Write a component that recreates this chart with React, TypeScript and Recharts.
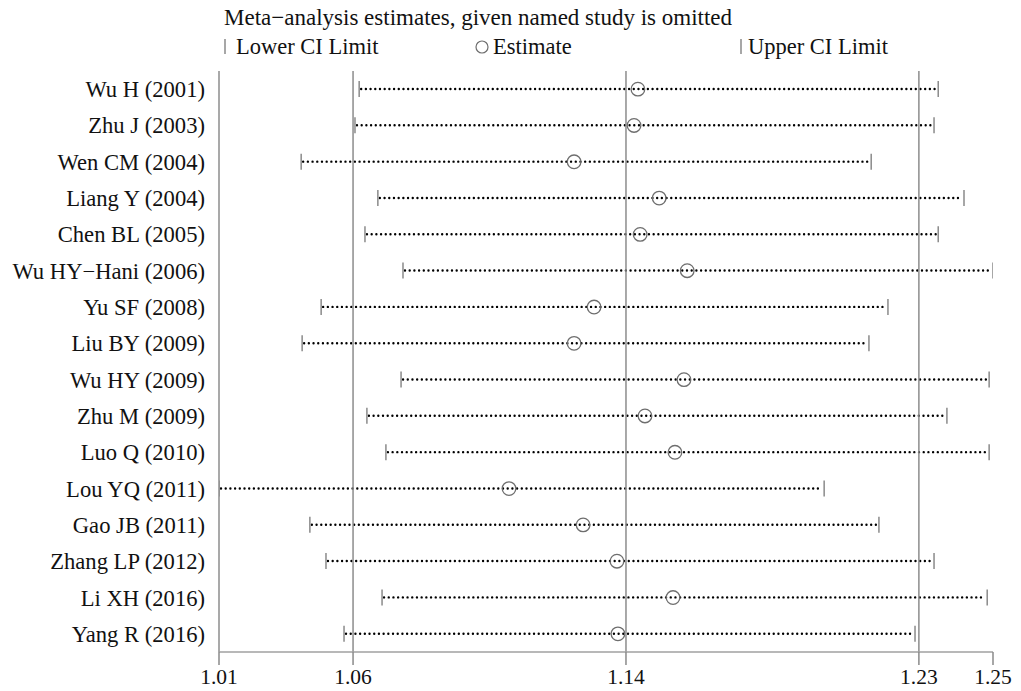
import React from 'react';
import { ComposedChart, Bar, Scatter, XAxis, YAxis, ReferenceLine } from 'recharts';

const studies = [
  'Wu H (2001)',
  'Zhu J (2003)',
  'Wen CM (2004)',
  'Liang Y (2004)',
  'Chen BL (2005)',
  'Wu HY\u2212Hani (2006)',
  'Yu SF (2008)',
  'Liu BY (2009)',
  'Wu HY (2009)',
  'Zhu M (2009)',
  'Luo Q (2010)',
  'Lou YQ (2011)',
  'Gao JB (2011)',
  'Zhang LP (2012)',
  'Li XH (2016)',
  'Yang R (2016)',
];

const lowerCI = [1.0575, 1.0562, 1.0395, 1.0633, 1.0593, 1.0711, 1.0457, 1.0398, 1.0705, 1.0599, 1.0658, 1.014, 1.0422, 1.0472, 1.0646, 1.0528];
const estimates = [1.144, 1.1428, 1.1242, 1.1506, 1.1447, 1.1593, 1.1304, 1.1242, 1.1583, 1.1462, 1.1555, 1.104, 1.127, 1.1375, 1.1549, 1.1378];
const upperCI = [1.2372, 1.2359, 1.2164, 1.2452, 1.2372, 1.2542, 1.2216, 1.2157, 1.253, 1.2399, 1.253, 1.2018, 1.2188, 1.2359, 1.2524, 1.23];

// min lower, overall lower, overall estimate, overall upper, max upper
const axisTicks = [1.014, 1.0556, 1.1403, 1.2312, 1.2542];
const gridTicks = axisTicks.slice(0, 4);

const data = studies.map((name, i) => ({
  name,
  ci: [lowerCI[i], upperCI[i]],
  est: estimates[i],
}));

const FONT = '"Liberation Serif", "Times New Roman", serif';
const CAP = '#8a8a8a';
const TEXT = '#111';

const CIShape = (props: any) => {
  const { x, y, width, height } = props;
  const cy = y + height / 2;
  return (
    <g>
      <line
        x1={x + 2}
        x2={x + width - 2}
        y1={cy}
        y2={cy}
        stroke="#000"
        strokeWidth={2.4}
        strokeLinecap="round"
        strokeDasharray="0 4.7"
      />
      <line x1={x} x2={x} y1={cy - 8} y2={cy + 8} stroke={CAP} strokeWidth={1.5} />
      <line x1={x + width} x2={x + width} y1={cy - 8} y2={cy + 8} stroke={CAP} strokeWidth={1.5} />
    </g>
  );
};

const EstShape = (props: any) => (
  <circle cx={props.cx} cy={props.cy} r={6.8} fill="none" stroke="#6e6e6e" strokeWidth={1.3} />
);

export default function App() {
  return (
    <div style={{ position: 'absolute', left: 0, top: 0, width: 1021, height: 691, background: '#fff' }}>
      <svg width={1021} height={70} style={{ position: 'absolute', left: 0, top: 0 }} fontFamily={FONT}>
        <text x={224} y={25} fontSize={23} fill={TEXT}>Meta{'\u2212'}analysis estimates, given named study is omitted</text>
        <line x1={225} x2={225} y1={39} y2={54} stroke={CAP} strokeWidth={1.5} />
        <text x={236} y={54} fontSize={22.5} fill={TEXT}>Lower CI Limit</text>
        <circle cx={482} cy={47} r={6} fill="none" stroke="#6e6e6e" strokeWidth={1.2} />
        <text x={493} y={54} fontSize={22.5} fill={TEXT}>Estimate</text>
        <line x1={741} x2={741} y1={39} y2={54} stroke={CAP} strokeWidth={1.5} />
        <text x={748} y={54} fontSize={22.5} fill={TEXT}>Upper CI Limit</text>
      </svg>
      <ComposedChart
        width={1021}
        height={691}
        layout="vertical"
        data={data}
        margin={{ top: 71, right: 28, bottom: 0, left: 0 }}
        style={{ fontFamily: FONT }}
      >
        <XAxis
          type="number"
          domain={[axisTicks[0], axisTicks[axisTicks.length - 1]]}
          ticks={axisTicks}
          interval={0}
          allowDataOverflow
          tickFormatter={(v: number) => v.toFixed(2)}
          height={39}
          tickSize={13}
          tickMargin={4}
          axisLine={{ stroke: '#a0a0a0', strokeWidth: 1.5 }}
          tickLine={{ stroke: '#8a8a8a', strokeWidth: 1.5 }}
          tick={{ fontSize: 21.5, fill: TEXT, fontFamily: FONT }}
        />
        <YAxis
          type="category"
          dataKey="name"
          width={219}
          interval={0}
          tickSize={0}
          tickMargin={14}
          tickLine={false}
          axisLine={false}
          tick={{ fontSize: 22.6, fill: TEXT, fontFamily: FONT }}
        />
        {gridTicks.map((t) => (
          <ReferenceLine key={t} x={t} stroke="#8c8c8c" strokeWidth={1.5} />
        ))}
        <Bar dataKey="ci" barSize={16} shape={CIShape} isAnimationActive={false} />
        <Scatter dataKey="est" shape={EstShape} isAnimationActive={false} />
      </ComposedChart>
    </div>
  );
}
